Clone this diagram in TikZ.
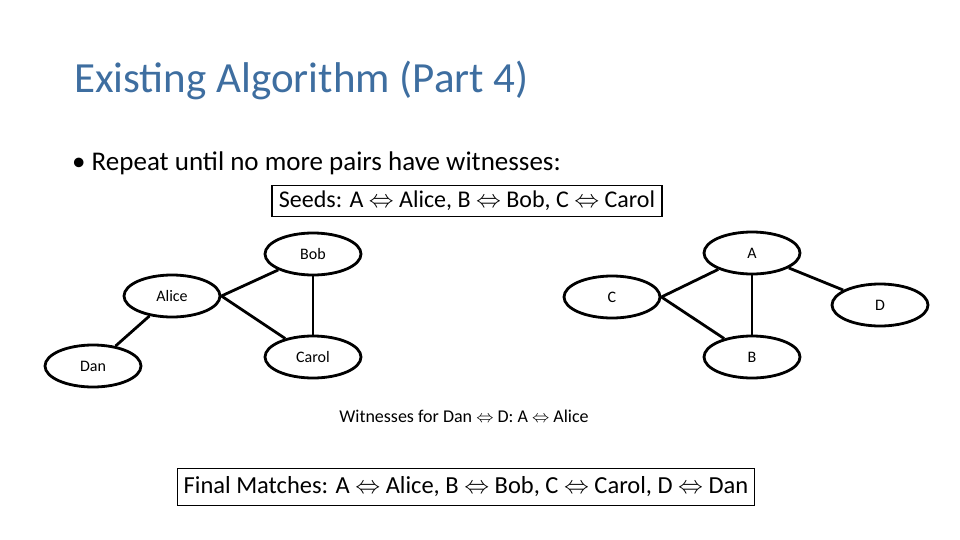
\documentclass[tikz,border=0pt]{standalone}
\usepackage{fontspec}
\setmainfont{Carlito}
\usetikzlibrary{shapes.geometric}
\definecolor{titleblue}{RGB}{62,110,160}
\begin{document}
\begin{tikzpicture}[x=1pt,y=-1pt,
  v/.style={ellipse,draw,line width=2.8pt,minimum width=96pt,minimum height=42pt,inner sep=0pt,font=\fontsize{16}{18}\selectfont},
  e/.style={line width=2.8pt},
  box/.style={draw,line width=1.2pt,inner xsep=6pt,inner ysep=3pt}]
\useasboundingbox (0,0) rectangle (960,540);
\node[anchor=west,text=titleblue,font=\fontsize{43}{46}\selectfont,inner sep=0pt] (title) at (74,80) {Existing Algorithm (Part 4)};
\node[anchor=west,font=\fontsize{27}{30}\selectfont,inner sep=0pt] (bullet) at (72,163) {\textbullet\ Repeat until no more pairs have witnesses:};
\node[box,font=\fontsize{24}{27}\selectfont,minimum width=390pt,minimum height=31pt] (seeds) at (467,201) {Seeds: A $\Leftrightarrow$ Alice, B $\Leftrightarrow$ Bob, C $\Leftrightarrow$ Carol};
\node[v] (dan) at (93,366) {Dan};
\node[v] (alice) at (172,296) {Alice};
\node[v] (bob) at (313,254) {Bob};
\node[v] (carol) at (313,357) {Carol};
\node[v] (A) at (752,253) {A};
\node[v] (C) at (612,297) {C};
\node[v] (D) at (880,305) {D};
\node[v] (B) at (752,357) {B};
\draw[e] (alice) -- (dan);
\draw[e] (alice.east) -- (bob);
\draw[e] (alice.east) -- (carol);
\draw[e] (bob) -- (carol);
\draw[e] (C.east) -- (A);
\draw[e] (C.east) -- (B);
\draw[e] (A) -- (B);
\draw[e] (A) -- (D);
\node[font=\fontsize{18}{20}\selectfont] (wit) at (464,416) {Witnesses for Dan $\Leftrightarrow$ D: A $\Leftrightarrow$ Alice};
\node[box,font=\fontsize{24.5}{27}\selectfont,minimum width=571pt,minimum height=37pt] (final) at (466,487) {Final Matches: A $\Leftrightarrow$ Alice, B $\Leftrightarrow$ Bob, C $\Leftrightarrow$ Carol, D $\Leftrightarrow$ Dan};
\end{tikzpicture}
\end{document}
